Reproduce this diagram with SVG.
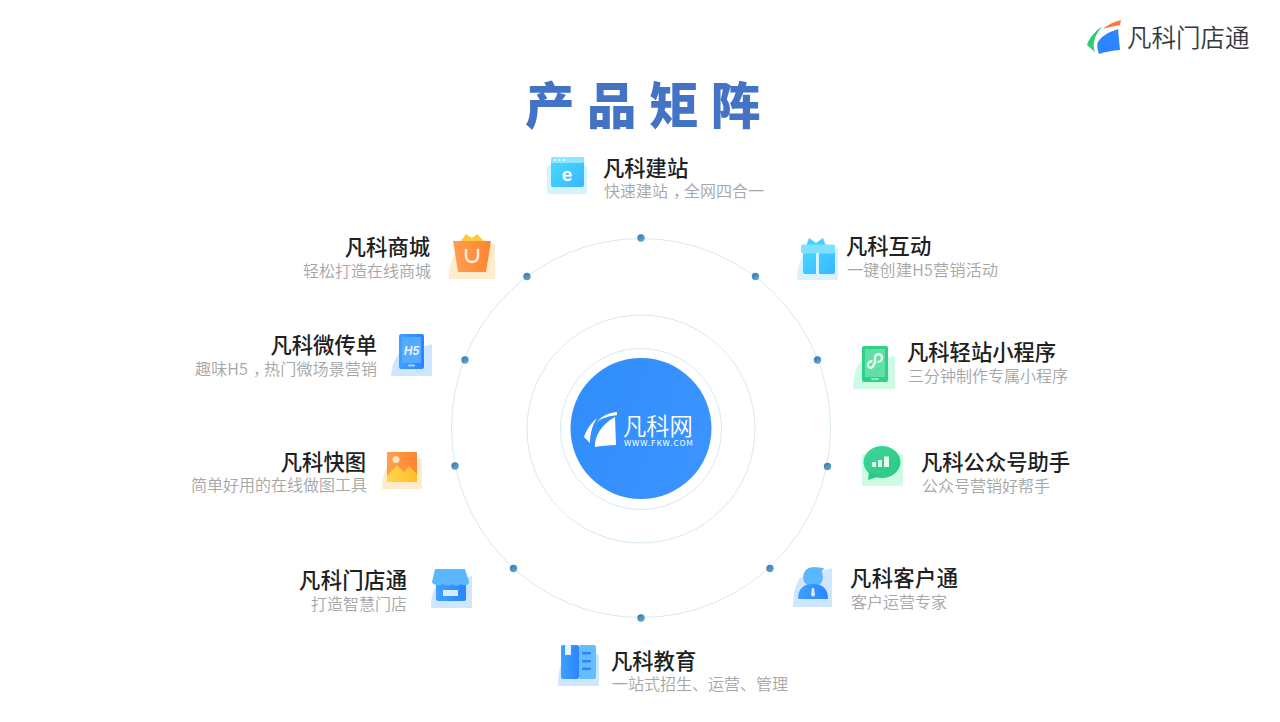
<svg xmlns="http://www.w3.org/2000/svg" width="1280" height="722" viewBox="0 0 1280 722">
<defs>
<linearGradient id="gb" x1="0" y1="0" x2="1" y2="0"><stop offset="0" stop-color="#3fa0ff"/><stop offset="1" stop-color="#2a86ff"/></linearGradient>
<linearGradient id="gc" x1="0" y1="0" x2="1" y2="1"><stop offset="0" stop-color="#48dcff"/><stop offset="1" stop-color="#38b6ff"/></linearGradient>
<linearGradient id="gg" x1="0" y1="0" x2="1" y2="1"><stop offset="0" stop-color="#3ed69a"/><stop offset="1" stop-color="#2bc882"/></linearGradient>
<linearGradient id="go" x1="0" y1="0" x2="1" y2="0"><stop offset="0" stop-color="#ff9f52"/><stop offset="1" stop-color="#ff8430"/></linearGradient>
<linearGradient id="gy" x1="0" y1="0" x2="1" y2="0"><stop offset="0" stop-color="#ffd84a"/><stop offset="1" stop-color="#ffbd2a"/></linearGradient>
<linearGradient id="gd" x1="0" y1="0" x2="0.6" y2="1"><stop offset="0" stop-color="#3d6fb4"/><stop offset="1" stop-color="#5aa9c6"/></linearGradient>
<linearGradient id="gh" x1="0" y1="0" x2="1" y2="0.4"><stop offset="0" stop-color="#2f8dfb"/><stop offset="1" stop-color="#3a93ff"/></linearGradient>
</defs>
<style>
text{font-family:"Noto Sans CJK SC","Noto Sans",sans-serif}
.t{font-size:21.3px;font-weight:500;fill:#202020}
.s{font-size:16px;font-weight:350;fill:#a6a6a6}
.e{text-anchor:end}
.ring{fill:none;stroke:#d3e7ec;stroke-width:.9}
.dot{fill:url(#gd);r:3.7px}
</style>
<rect width="1280" height="722" fill="#fff"/>

<g id="logo">
<path d="M1102 27C1096 30 1089 38 1087 45L1095 52C1092 44 1094 36 1102 27Z" fill="#2ecb72"/>
<path d="M1103 29C1107 25 1113 22 1121 20L1120 25C1113 26 1107 28 1103 29Z" fill="#ff7a35"/>
<path d="M1113 31L1118 29L1120 50C1113 50.500 1105 52 1099 54C1097 48 1097 44 1098 42C1101 37 1107 33 1113 31Z" fill="#2b86ff"/>
<text x="1127" y="46.500" font-size="24.500" font-weight="350" fill="#35393f">凡科门店通</text>
</g>

<text id="title" x="525" y="124" font-size="49.500" font-weight="900" fill="#4472c4" letter-spacing="12.500">产品矩阵</text>

<g id="connectors">
<circle class="ring" cx="641" cy="428" r="189.500"/>
<circle class="ring" cx="641" cy="429" r="114"/>
<circle class="ring" cx="641" cy="429" r="80.500"/>
<circle class="dot" cx="641" cy="238"/>
<circle class="dot" cx="755.500" cy="276.500"/>
<circle class="dot" cx="817.500" cy="360"/>
<circle class="dot" cx="827.500" cy="466.500"/>
<circle class="dot" cx="770" cy="568.500"/>
<circle class="dot" cx="641" cy="618"/>
<circle class="dot" cx="513.500" cy="568.500"/>
<circle class="dot" cx="455" cy="466"/>
<circle class="dot" cx="465" cy="360"/>
<circle class="dot" cx="527" cy="276.500"/>
</g>

<g id="center">
<circle cx="641" cy="428.500" r="70.500" fill="url(#gh)"/>
<path d="M597 418C590 424 586 431 584 437L590 443C590 434 592 426 597 418Z" fill="#fff"/>
<path d="M617 412C606 413 600 418 597 422C602 418 609 416 617 415Z" fill="#fff"/>
<path d="M615 417L616 445C609 445 601 446 595 447C594 438 601 424 615 417Z" fill="#fff"/>
<text x="623" y="435" font-size="23.300" font-weight="350" fill="#fff">凡科网</text>
<text x="624" y="446" font-size="8.200" font-weight="400" fill="#fff" textLength="69" lengthAdjust="spacing">WWW.FKW.COM</text>
</g>

<g id="node-jianzhan">
<rect x="547" y="165" width="40" height="29" rx="3" fill="#d4f3ff"/>
<rect x="551" y="157" width="33" height="30" rx="2" fill="url(#gc)"/>
<rect x="551" y="157" width="33" height="6" rx="2" fill="#8fe6ff"/>
<g fill="#fff"><circle cx="555" cy="160" r="1"/><circle cx="559.500" cy="160" r="1"/><circle cx="564" cy="160" r="1"/></g>
<text x="567" y="181" font-size="19" font-weight="700" fill="#fff" text-anchor="middle" style="font-family:'Liberation Sans',sans-serif">e</text>
<text class="t" x="603" y="176">凡科建站</text>
<text class="s" x="604" y="197">快速建站<tspan dx="5">，</tspan><tspan dx="-5">全网四合一</tspan></text>
</g>

<g id="node-hudong">
<path d="M806 252L838 248L838 280L797 280C797 268 800 258 806 252Z" fill="#d6f3ff"/>
<path d="M809 238L816 243L823 238L826 246L806 246Z" fill="#44d3ff"/>
<rect x="803" y="245" width="32" height="29" rx="2" fill="url(#gc)"/>
<rect x="801" y="244.500" width="34" height="9" rx="2" fill="#7fe0ff"/>
<rect x="816" y="253" width="3" height="21" fill="#d6f3ff"/>
<text class="t" x="846" y="254">凡科互动</text>
<text class="s" x="847" y="276" textLength="151" lengthAdjust="spacing">一键创建H5营销活动</text>
</g>

<g id="node-xiaochengxu">
<path d="M862 360L895 356L895 389L853 389C853 376 856 366 862 360Z" fill="#cdfbe4"/>
<rect x="862" y="346" width="26" height="36" rx="2" fill="#2fd189"/>
<rect x="865" y="349" width="20" height="28" fill="#62dfa8"/>
<path d="M874 363C874 369 868 369 868 365C868 362 871 361 872.500 361M875 364L875 358C875 353 882 353 882 358C882 361 879 362 877.500 362" fill="none" stroke="#e5fff2" stroke-width="2.300"/>
<rect x="871" y="378" width="8" height="2" rx="1" fill="#8beec0"/>
<text class="t" x="907" y="360">凡科轻站小程序</text>
<text class="s" x="908" y="382">三分钟制作专属小程序</text>
</g>

<g id="node-gongzhonghao">
<rect x="862" y="454" width="41" height="32" rx="2" fill="#cdfbe4"/>
<ellipse cx="882" cy="462" rx="18.500" ry="16" fill="url(#gg)"/>
<path d="M869 472L868 480L880 476Z" fill="#2bc882"/>
<g fill="#e2fff0"><rect x="872" y="462" width="4" height="5"/><rect x="878" y="460" width="4" height="7"/><rect x="884" y="456.500" width="5" height="10.500"/></g>
<text class="t" x="921" y="469.500">凡科公众号助手</text>
<text class="s" x="922" y="491.500">公众号营销好帮手</text>
</g>

<g id="node-kehu">
<path d="M800 578L832 568L832 607L793 607C793 595 795 585 800 578Z" fill="#cfe6ff"/>
<circle cx="813" cy="577" r="10" fill="#5ab6ff"/>
<path d="M814 567L824 568L821 573Z" fill="#5ab6ff"/>
<path d="M798 599C798 588 804 584 813 584C822 584 828 588 828 599Z" fill="url(#gb)"/>
<path d="M812 588L814 588L815 595L813 597L811 595Z" fill="#dff0ff"/>
<text class="t" x="850" y="586" textLength="108" lengthAdjust="spacing">凡科客户通</text>
<text class="s" x="851" y="608">客户运营专家</text>
</g>

<g id="node-jiaoyu">
<path d="M565 657L599 654L599 686L558 686C558 673 560 664 565 657Z" fill="#cfe6ff"/>
<rect x="561" y="645" width="18" height="34" rx="2" fill="url(#gb)"/>
<rect x="579" y="645" width="17" height="34" rx="2" fill="#65bcff"/>
<path d="M565 645L571 645L571 655L565 655Z" fill="#e4f2ff"/>
<g fill="#2a86ff"><rect x="582" y="652" width="9" height="2.500" rx="1"/><rect x="582" y="660" width="9" height="2.500" rx="1"/><rect x="582" y="667.500" width="9" height="2.500" rx="1"/></g>
<text class="t" x="611" y="668.500">凡科教育</text>
<text class="s" x="612" y="690">一站式招生、运营、管理</text>
</g>

<g id="node-mendian">
<path d="M438 583L472 576L472 608L431 608C431 597 433 589 438 583Z" fill="#cfe6ff"/>
<rect x="436" y="580" width="30" height="21" rx="2" fill="url(#gb)"/>
<path d="M435 569L465 569L469 582C469 586 463 586 461 584C459 586 454 586 452 584C450 586 445 586 443 584C441 586 433 586 432 582Z" fill="#5ab6ff"/>
<rect x="443" y="590" width="15" height="6" fill="#d9ecff"/>
<text class="t e" x="407" y="588" textLength="108" lengthAdjust="spacing">凡科门店通</text>
<text class="s e" x="407" y="610">打造智慧门店</text>
</g>

<g id="node-kuaitu">
<path d="M392 458L422 459L422 489L382 489C382 476 386 466 392 458Z" fill="#ffeccd"/>
<rect x="387" y="452" width="30" height="30" rx="1" fill="url(#go)"/>
<circle cx="396" cy="459.500" r="3.500" fill="#ffe3c8"/>
<path d="M387 482L387 476L397 465L404 472L409 466L417 474L417 482Z" fill="url(#gy)"/>
<text class="t e" x="366" y="469.500">凡科快图</text>
<text class="s e" x="367" y="491">简单好用的在线做图工具</text>
</g>

<g id="node-weichuandan">
<path d="M400 353L432 344L432 376L391 376C392 366 394 359 400 353Z" fill="#cfe6ff"/>
<rect x="399" y="334" width="25" height="35" rx="2" fill="url(#gb)"/>
<rect x="402" y="337" width="19" height="26" fill="#54aaff"/>
<text x="411.500" y="355" font-size="12" font-weight="700" font-style="italic" fill="#e4f2ff" text-anchor="middle" style="font-family:'Liberation Sans',sans-serif">H5</text>
<rect x="408" y="364.500" width="7" height="2" rx="1" fill="#a4d2ff"/>
<text class="t e" x="377" y="353">凡科微传单</text>
<text class="s e" x="377" y="375" textLength="182" lengthAdjust="spacing">趣味H5<tspan dx="5">，</tspan><tspan dx="-5">热门微场景营销</tspan></text>
</g>

<g id="node-shangcheng">
<path d="M458 250L495 243L495 279L449 279C449 266 452 257 458 250Z" fill="#ffeccd"/>
<path d="M460 242L466 234L472 238L477 234L485 242Z" fill="#ffcb3d"/>
<path d="M453 241L491 241L486 272L458 272Z" fill="url(#go)"/>
<path d="M466 250L466 256C466 264 478 264 478 256L478 250" fill="none" stroke="#ffeedd" stroke-width="2.500" stroke-linecap="round"/>
<text class="t e" x="430" y="255">凡科商城</text>
<text class="s e" x="431" y="277">轻松打造在线商城</text>
</g>
</svg>
